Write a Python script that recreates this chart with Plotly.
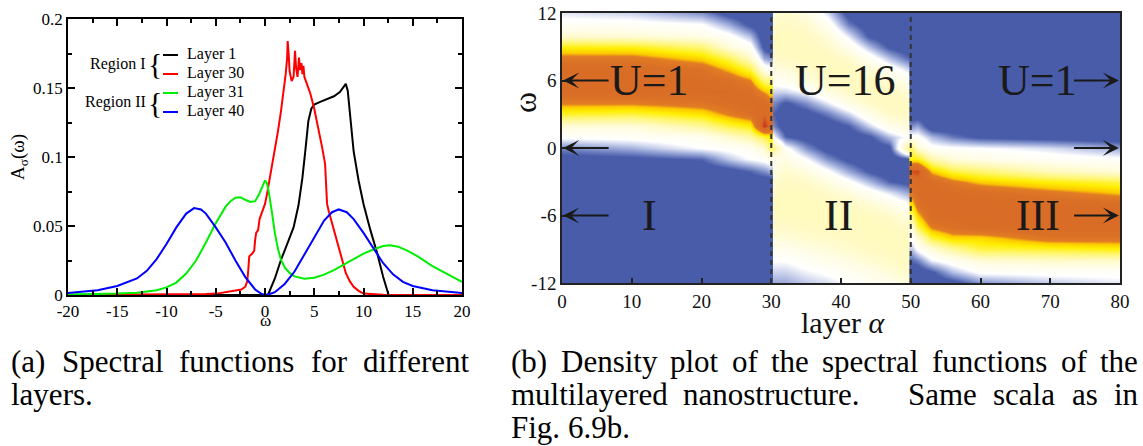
import plotly.graph_objects as go

# ---------------- data: panel (a) spectral functions ----------------
w_layer1 = [-20, 0.0, 0.3, 1.0, 1.6, 2.2, 2.9, 3.4, 3.8, 4.1, 4.4, 4.7, 5.0, 5.6, 6.3, 7.0, 7.6, 8.2,
            8.4, 8.6, 8.8, 9.0, 9.5, 10.0, 10.7, 11.4, 12.0, 12.3, 12.55, 20]
a_layer1 = [0, 0, 0.0, 0.012, 0.025, 0.036, 0.049, 0.065, 0.085, 0.105, 0.126, 0.135, 0.138, 0.140,
            0.142, 0.144, 0.147, 0.153, 0.148, 0.132, 0.115, 0.104, 0.083, 0.066, 0.047, 0.030,
            0.013, 0.005, 0.0, 0]

w_layer30 = [-20, -10, -6, -4.9, -3.2, -2.4, -2.0, -1.8, -1.7, -1.6, -1.3, -1.1, -1.0, -0.9, -0.7,
             -0.55, -0.4, -0.2, 0.0, 0.2, 0.5, 0.9, 1.3, 1.6, 1.9, 2.1, 2.25, 2.3, 2.4, 2.5, 2.7,
             2.9, 3.05, 3.15, 3.3, 3.45, 3.55, 3.7, 3.8, 3.9, 4.0, 4.1, 4.3, 4.6, 5.0, 5.4, 5.8,
             6.1, 6.2, 6.3, 6.5, 6.8, 7.0, 7.3, 7.6, 7.8, 8.2, 8.6, 9.0, 9.5, 10.0, 12, 20]
a_layer30 = [0, 0.0002, 0.0007, 0.001, 0.003, 0.004, 0.006, 0.010, 0.018, 0.028, 0.030, 0.032,
             0.040, 0.045, 0.047, 0.055, 0.058, 0.062, 0.066, 0.073, 0.085, 0.100, 0.118, 0.132,
             0.148, 0.160, 0.172, 0.184, 0.175, 0.162, 0.155, 0.158, 0.177, 0.165, 0.158, 0.172,
             0.163, 0.168, 0.160, 0.166, 0.158, 0.156, 0.152, 0.146, 0.135, 0.122, 0.107, 0.095,
             0.080, 0.066, 0.060, 0.052, 0.046, 0.040, 0.032, 0.026, 0.016, 0.010, 0.006, 0.003,
             0.001, 0.0002, 0]

w_layer31 = [-20, -17, -15, -13, -12, -11, -10, -9, -8, -7, -6, -5, -4, -3.5, -3, -2.5, -2, -1.5,
             -1, -0.6, -0.3, 0, 0.2, 0.4, 0.7, 1.0, 1.3, 1.6, 2, 2.5, 3, 4, 5, 6, 7, 8, 9, 10, 11,
             12, 12.7, 13.5, 14.5, 15.5, 17, 18.5, 20]
a_layer31 = [0.0003, 0.0006, 0.001, 0.0017, 0.0025, 0.0035, 0.0055, 0.009, 0.0155, 0.025, 0.038,
             0.052, 0.064, 0.068, 0.0705, 0.0708, 0.069, 0.0675, 0.068, 0.073, 0.078, 0.083, 0.081,
             0.074, 0.060, 0.045, 0.034, 0.026, 0.020, 0.016, 0.0135, 0.0118, 0.0125, 0.0148,
             0.018, 0.022, 0.026, 0.030, 0.033, 0.0355, 0.036, 0.035, 0.032, 0.028, 0.021, 0.015,
             0.0095]

w_layer40 = [-20, -17, -15, -13, -12, -11, -10, -9, -8, -7.2, -6.5, -6, -5, -4, -3, -2, -1, -0.4,
             0, 0.4, 1, 2, 3, 4, 5, 6, 6.8, 7.5, 8.3, 9, 10, 11, 12, 13, 14, 15, 17, 20]
a_layer40 = [0.0015, 0.0035, 0.0065, 0.012, 0.0175, 0.026, 0.037, 0.049, 0.059, 0.063, 0.062,
             0.059, 0.049, 0.038, 0.025, 0.013, 0.004, 0.001, 0.0, 0.0005, 0.002, 0.008, 0.017,
             0.029, 0.042, 0.054, 0.060, 0.062, 0.060, 0.055, 0.045, 0.034, 0.023, 0.015, 0.0095,
             0.0065, 0.0035, 0.0015]

series_names = ["Layer 1", "Layer 30", "Layer 31", "Layer 40"]
series_colors = ["#000000", "#ff0000", "#00ee00", "#0000ff"]
series_w = [w_layer1, w_layer30, w_layer31, w_layer40]
series_a = [a_layer1, a_layer30, a_layer31, a_layer40]

# ---------------- data: panel (b) density plot (levels) ----------------
omega_rows = [12, 11, 10, 9, 8, 7, 6, 5, 4, 3, 2, 1, 0, -1, -2, -3, -4, -5, -6, -7, -8, -9, -10, -11, -12]

reg1_layers = [0, 10, 20, 24, 27, 29, 29.8]
reg1_cols = [
    [0.18, 0.22, 0.32, 0.55, 0.70, 0.80, 0.82, 0.80, 0.68, 0.52, 0.30, 0.21, 0.09, 0.02] + [0] * 11,
    [0.16, 0.22, 0.31, 0.54, 0.70, 0.80, 0.82, 0.80, 0.68, 0.50, 0.30, 0.22, 0.13, 0.03] + [0] * 11,
    [0.10, 0.20, 0.27, 0.45, 0.60, 0.74, 0.80, 0.80, 0.72, 0.58, 0.40, 0.25, 0.20, 0.06] + [0] * 11,
    [0.02, 0.12, 0.22, 0.30, 0.48, 0.62, 0.76, 0.80, 0.78, 0.68, 0.50, 0.32, 0.22, 0.15, 0.02] + [0] * 10,
    [0.00, 0.03, 0.14, 0.23, 0.33, 0.50, 0.68, 0.78, 0.80, 0.75, 0.55, 0.38, 0.24, 0.20, 0.06] + [0] * 10,
    [0.00, 0.00, 0.00, 0.03, 0.12, 0.25, 0.45, 0.65, 0.80, 0.86, 0.95, 0.50, 0.32, 0.22, 0.10] + [0] * 10,
    [0.00, 0.00, 0.00, 0.00, 0.10, 0.22, 0.45, 0.60, 0.72, 0.80, 0.85, 0.55, 0.45, 0.25, 0.12] + [0] * 10,
]

reg2_layers = [30.2, 32, 35, 38, 41, 44, 47, 49.8]
reg2_cols = [
    [0.30, 0.33, 0.35, 0.35, 0.33, 0.28, 0.22, 0.16, 0.10, 0.06, 0.10, 0.22, 0.45, 0.24, 0.28, 0.32, 0.34, 0.35, 0.35, 0.33, 0.30, 0.25, 0.20, 0.16, 0.12],
    [0.32, 0.34, 0.35, 0.35, 0.34, 0.30, 0.24, 0.16, 0.04, 0.00, 0.00, 0.06, 0.22, 0.28, 0.32, 0.34, 0.35, 0.35, 0.35, 0.33, 0.30, 0.25, 0.20, 0.16, 0.12],
    [0.28, 0.32, 0.34, 0.35, 0.35, 0.33, 0.29, 0.20, 0.10, 0.02, 0.00, 0.02, 0.10, 0.20, 0.29, 0.33, 0.35, 0.35, 0.35, 0.34, 0.32, 0.28, 0.23, 0.19, 0.15],
    [0.17, 0.24, 0.30, 0.33, 0.35, 0.35, 0.33, 0.28, 0.18, 0.08, 0.00, 0.00, 0.02, 0.10, 0.21, 0.29, 0.33, 0.35, 0.35, 0.35, 0.33, 0.30, 0.26, 0.21, 0.17],
    [0.02, 0.08, 0.18, 0.26, 0.32, 0.35, 0.35, 0.33, 0.27, 0.16, 0.05, 0.00, 0.00, 0.03, 0.12, 0.22, 0.30, 0.34, 0.35, 0.35, 0.34, 0.32, 0.28, 0.24, 0.20],
    [0.00, 0.00, 0.04, 0.14, 0.24, 0.31, 0.34, 0.35, 0.33, 0.27, 0.16, 0.04, 0.00, 0.00, 0.04, 0.14, 0.24, 0.31, 0.35, 0.35, 0.35, 0.34, 0.31, 0.27, 0.23],
    [0.00, 0.00, 0.00, 0.04, 0.14, 0.24, 0.31, 0.34, 0.35, 0.33, 0.26, 0.14, 0.03, 0.00, 0.00, 0.06, 0.18, 0.27, 0.33, 0.35, 0.35, 0.35, 0.33, 0.30, 0.26],
    [0.00, 0.00, 0.00, 0.00, 0.06, 0.16, 0.25, 0.31, 0.34, 0.34, 0.30, 0.22, 0.45, 0.04, 0.00, 0.03, 0.12, 0.20, 0.28, 0.33, 0.35, 0.35, 0.35, 0.33, 0.30],
]

reg3_layers = [50.2, 51, 53, 56, 60, 70, 80]
reg3_cols = [
    [0] * 10 + [0.10, 0.22, 0.45, 0.55, 0.90, 0.80, 0.72, 0.60, 0.45, 0.30, 0.22, 0.15, 0.06, 0.00, 0.00],
    [0] * 10 + [0.12, 0.22, 0.32, 0.55, 0.92, 0.82, 0.80, 0.74, 0.60, 0.48, 0.30, 0.21, 0.08, 0.00, 0.00],
    [0] * 11 + [0.14, 0.22, 0.38, 0.62, 0.80, 0.82, 0.82, 0.80, 0.68, 0.50, 0.30, 0.18, 0.04, 0.00],
    [0] * 11 + [0.08, 0.21, 0.30, 0.50, 0.70, 0.80, 0.82, 0.82, 0.76, 0.60, 0.40, 0.23, 0.14, 0.02],
    [0] * 11 + [0.04, 0.20, 0.27, 0.45, 0.62, 0.78, 0.82, 0.82, 0.80, 0.60, 0.50, 0.30, 0.21, 0.10],
    [0] * 11 + [0.02, 0.17, 0.23, 0.35, 0.55, 0.70, 0.80, 0.83, 0.82, 0.72, 0.52, 0.32, 0.22, 0.15],
    [0] * 11 + [0.00, 0.12, 0.21, 0.30, 0.50, 0.63, 0.78, 0.83, 0.82, 0.72, 0.55, 0.32, 0.22, 0.18],
]

region_bounds = [30, 50]
x_ticks_b = [0, 10, 20, 30, 40, 50, 60, 70, 80]
y_ticks_b = [-12, -6, 0, 6, 12]
y_ticktext_b = ["-12", "-6", "0", "6", "12"]
x_ticks_a = [-20, -15, -10, -5, 0, 5, 10, 15, 20]
x_ticktext_a = ["-20", "-15", "-10", "-5", "0", "5", "10", "15", "20"]
y_ticks_a = [0, 0.05, 0.1, 0.15, 0.2]
y_ticktext_a = ["0", "0.05", "0.1", "0.15", "0.2"]

# ---------------- helpers ----------------
W, H = 1143, 446
FONT = "Liberation Serif, Liberation Sans, Arial, sans-serif"


def px(x):
    return x / W


def py(y):
    return 1 - y / H


def to_rows(cols):
    return [[c[i] for c in cols] for i in range(len(omega_rows))]


colorscale = [
    [0.00, "rgb(72,92,170)"],
    [0.05, "rgb(72,92,170)"],
    [0.13, "rgb(165,178,222)"],
    [0.20, "rgb(255,255,255)"],
    [0.28, "rgb(255,253,228)"],
    [0.36, "rgb(255,249,185)"],
    [0.46, "rgb(255,246,110)"],
    [0.56, "rgb(255,238,0)"],
    [0.63, "rgb(252,200,0)"],
    [0.67, "rgb(226,125,35)"],
    [0.75, "rgb(218,112,38)"],
    [0.86, "rgb(216,106,38)"],
    [1.00, "rgb(195,20,20)"],
]

fig = go.Figure()

# panel (a) lines
for name, col, wv, av in zip(series_names, series_colors, series_w, series_a):
    fig.add_trace(go.Scatter(x=wv, y=av, mode="lines", name=name,
                             line=dict(color=col, width=2), xaxis="x", yaxis="y",
                             hoverinfo="skip"))

# panel (b) heatmaps: region II first, then I and III on top
for lay, cols in [(reg2_layers, reg2_cols), (reg1_layers, reg1_cols), (reg3_layers, reg3_cols)]:
    fig.add_trace(go.Heatmap(x=lay, y=omega_rows, z=to_rows(cols), zmin=0, zmax=1,
                             colorscale=colorscale, zsmooth="best", showscale=False,
                             xaxis="x2", yaxis="y2", hoverinfo="skip"))

tickfont_a = dict(family=FONT, size=17, color="black")
tickfont_b = dict(family=FONT, size=19, color="#111")

fig.update_layout(
    template="none",
    width=W, height=H, margin=dict(l=0, r=0, t=0, b=0, autoexpand=False),
    paper_bgcolor="white", plot_bgcolor="white", showlegend=False,
    font=dict(family=FONT, color="black"),
    xaxis=dict(domain=[px(68), px(462)], anchor="y", range=[-20, 20], tickvals=x_ticks_a,
               ticktext=x_ticktext_a, automargin=False,
               ticks="inside", ticklen=7, tickwidth=1.5, tickcolor="black",
               showline=True, linecolor="black", linewidth=1.5, mirror="allticks",
               minor=dict(ticks="inside", ticklen=4, tickwidth=1.5, dtick=2.5, tickcolor="black"),
               showgrid=False, zeroline=False, tickfont=tickfont_a),
    yaxis=dict(domain=[py(295), py(19)], anchor="x", range=[0, 0.2], tickvals=y_ticks_a,
               ticktext=y_ticktext_a, automargin=False,
               ticks="inside", ticklen=7, tickwidth=1.5, tickcolor="black",
               showline=True, linecolor="black", linewidth=1.5, mirror="allticks",
               minor=dict(ticks="inside", ticklen=4, tickwidth=1.5, dtick=0.025, tickcolor="black"),
               showgrid=False, zeroline=False, tickfont=tickfont_a),
    xaxis2=dict(domain=[px(562), px(1120)], anchor="y2", range=[0, 80], tickvals=x_ticks_b,
                automargin=False,
                ticks="inside", ticklen=5, tickwidth=1.5, tickcolor="#222",
                showline=True, linecolor="#222", linewidth=1.5, mirror=True,
                showgrid=False, zeroline=False, tickfont=tickfont_b),
    yaxis2=dict(domain=[py(283), py(13)], anchor="x2", range=[-12, 12], tickvals=y_ticks_b,
                ticktext=y_ticktext_b, automargin=False,
                ticks="inside", ticklen=5, tickwidth=1.5, tickcolor="#222",
                showline=True, linecolor="#222", linewidth=1.5, mirror=True,
                showgrid=False, zeroline=False, tickfont=tickfont_b),
)

shapes = []
annotations = []

# region boundaries (dashed)
for b in region_bounds:
    shapes.append(dict(type="line", xref="x2", yref="y2", x0=b, x1=b, y0=-12, y1=12,
                       line=dict(color="#333", width=2, dash="5px,4px"), layer="above"))

# legend of panel (a)
legend_y = [54, 73, 92, 111]
for name, col, yy in zip(series_names, series_colors, legend_y):
    shapes.append(dict(type="line", xref="paper", yref="paper", x0=px(163), x1=px(178),
                       y0=py(yy + 1), y1=py(yy + 1), line=dict(color=col, width=2)))
    annotations.append(dict(xref="paper", yref="paper", x=px(185), y=py(yy), text=name,
                            showarrow=False, xanchor="left", yanchor="middle",
                            font=dict(family=FONT, size=16, color="black")))
for label, yy in [("Region I", 64), ("Region II", 102)]:
    annotations.append(dict(xref="paper", yref="paper", x=px(148), y=py(yy), text=label,
                            showarrow=False, xanchor="right", yanchor="middle",
                            font=dict(family=FONT, size=16, color="black")))
    annotations.append(dict(xref="paper", yref="paper", x=px(155), y=py(yy), text="{",
                            showarrow=False, xanchor="center", yanchor="middle",
                            font=dict(family=FONT, size=30, color="black")))

# axis titles
annotations += [
    dict(xref="paper", yref="paper", x=px(19), y=py(157), text="A<sub>σ</sub>(ω)",
         textangle=-90, showarrow=False, xanchor="center", yanchor="middle",
         font=dict(family=FONT, size=19, color="black")),
    dict(xref="paper", yref="paper", x=px(265), y=py(320), text="ω",
         showarrow=False, xanchor="center", yanchor="middle",
         font=dict(family=FONT, size=17, color="black")),
    dict(xref="paper", yref="paper", x=px(525), y=py(103), text="ω", textangle=-90,
         showarrow=False, xanchor="center", yanchor="middle",
         font=dict(family=FONT, size=32, color="#111")),
    dict(xref="paper", yref="paper", x=px(843), y=py(322), text="layer <i>α</i>",
         showarrow=False, xanchor="center", yanchor="middle",
         font=dict(family=FONT, size=30, color="#111")),
]

# labels inside heatmap
big = dict(family=FONT, size=44, color="#1a1a1a")
for txt, lx, ly in [("U=1", 12.6, 6.0), ("U=16", 40.6, 6.0), ("U=1", 68.1, 6.0),
                    ("I", 12.6, -6.0), ("II", 39.7, -6.0), ("III", 68.2, -6.0)]:
    annotations.append(dict(xref="x2", yref="y2", x=lx, y=ly, text=txt, showarrow=False,
                            xanchor="center", yanchor="middle", font=big))
for (hx, tx) in [(0.15, 6.9), (79.85, 73.2)]:
    for yy in [6, 0, -6]:
        annotations.append(dict(xref="x2", yref="y2", x=hx, y=yy, ax=tx, ay=yy,
                                axref="x2", ayref="y2", text="", showarrow=True,
                                arrowhead=3, arrowsize=1.35, arrowwidth=2,
                                arrowcolor="#1a1a1a", standoff=0, startstandoff=0))

# captions (justified; widths use Times-compatible metrics)
CW = {' ': 250, '(': 333, ')': 333, '.': 250, 'a': 444, 'b': 500, 'c': 444, 'd': 500,
      'e': 444, 'f': 333, 'g': 500, 'h': 500, 'i': 278, 'l': 278, 'm': 778, 'n': 500,
      'o': 500, 'p': 500, 'r': 333, 's': 389, 't': 278, 'u': 500, 'y': 500, 'S': 556,
      'D': 722, 'F': 556, '6': 500, '9': 500}
CAP = 31


def tw(s):
    return sum(CW.get(c, 500) for c in s) / 1000 * CAP


def caption_line(words, x0, x1, yc, justify=True):
    total = sum(tw(w) for w in words)
    gap = (x1 - x0 - total) / (len(words) - 1) if (justify and len(words) > 1) else tw(' ')
    x = x0
    for wd in words:
        annotations.append(dict(xref="paper", yref="paper", x=px(x), y=py(yc), text=wd,
                                showarrow=False, xanchor="left", yanchor="middle",
                                borderpad=0, borderwidth=0,
                                font=dict(family=FONT, size=CAP, color="black")))
        x += tw(wd) + gap


caption_line(["(a)", "Spectral", "functions", "for", "different"], 11, 470, 361)
caption_line(["layers."], 11, 470, 394, justify=False)
caption_line(["(b)", "Density", "plot", "of", "the", "spectral", "functions", "of", "the"],
             511, 1138, 361)
caption_line(["multilayered"], 511, 660, 394, justify=False)
caption_line(["nanostructure."], 683, 876, 394, justify=False)
caption_line(["Same", "scala", "as", "in"], 908, 1138, 394)
caption_line(["Fig.", "6.9b."], 511, 620, 427, justify=False)

fig.update_layout(shapes=shapes, annotations=annotations)
fig.write_html("out.html", config={"displayModeBar": False},
               post_script="document.body.style.margin='0px';")
